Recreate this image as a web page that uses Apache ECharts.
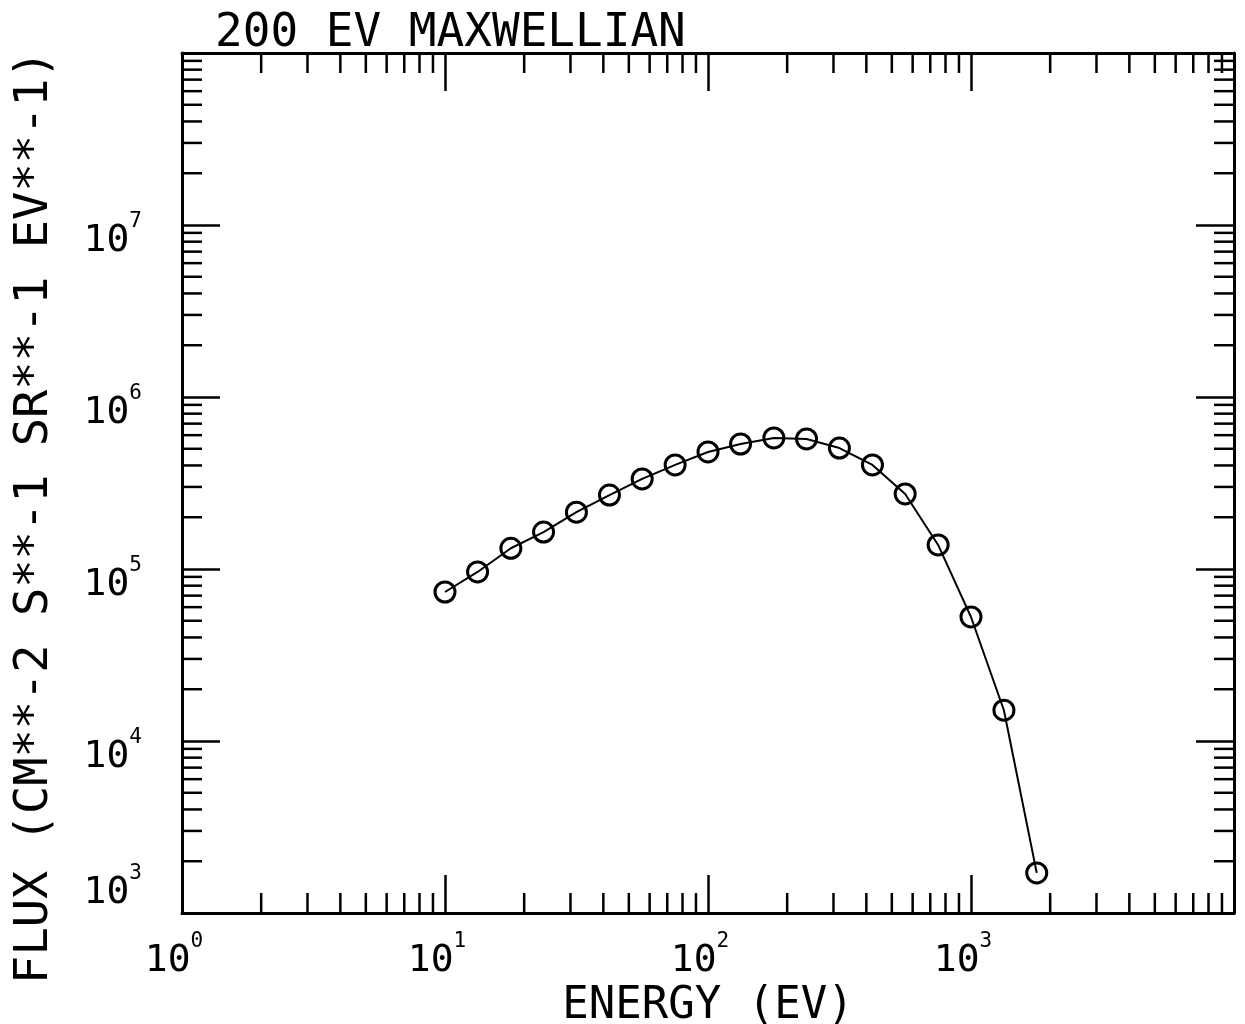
<!DOCTYPE html>
<html><head><meta charset="utf-8">
<script src="https://cdn.jsdelivr.net/npm/echarts@6/dist/echarts.min.js"></script>
<style>html,body{margin:0;background:#fff}#c{width:1245px;height:1024px}</style>
</head><body><div id="c"></div>
<script>
const titleText = '200 EV MAXWELLIAN';
const xName = 'ENERGY (EV)';
const yName = 'FLUX (CM**-2 S**-1 SR**-1 EV**-1)';
const energy = [10, 13.3, 17.8, 23.7, 31.6, 42.2, 56.2, 75, 100, 133, 178, 237, 316, 422, 562, 750, 1000, 1334, 1778];
const flux = [73500, 96100, 132000, 164000, 214000, 269000, 334000, 403000, 479000, 533000, 578000, 570000, 505000, 403000, 273000, 138000, 52600, 15100, 1710];
const xDecades = [0, 1, 2, 3];
const yDecades = [3, 4, 5, 6, 7];
const minorMults = [2, 3, 4, 5, 6, 7, 8, 9];
const xMin = 1, xMax = 10000, yMin = 1000, yMax = 1e8;

const FONT = 'DejaVu Sans Mono';
const xMinor = [];
xDecades.forEach(d => minorMults.forEach(m => xMinor.push([m * Math.pow(10, d), yMin])));
const yMinor = [];
yDecades.forEach(d => minorMults.forEach(m => yMinor.push([xMin, m * Math.pow(10, d)])));

function expOf(v) { return Math.round(Math.log10(v)); }
const rich = {
  b: { fontFamily: FONT, fontSize: 38, color: '#000', lineHeight: 60 },
  s: { fontFamily: FONT, fontSize: 21, color: '#000', verticalAlign: 'top', lineHeight: 21 },
  g: { fontSize: 1, lineHeight: 32 },
  h: { fontSize: 1, lineHeight: 40 }
};
const TICKLEN = 38, MINOR = 20, LW = 2.5;
function axisCommon(extra) {
  return Object.assign({
    type: 'log', logBase: 10,
    axisLine: { show: true, lineStyle: { color: '#000', width: 3 } },
    axisTick: { show: true, inside: true, length: TICKLEN, lineStyle: { color: '#000', width: LW } },
    splitLine: { show: false },
    minorTick: { show: false },
  }, extra);
}
const chart = echarts.init(document.getElementById('c'));
chart.setOption({
  backgroundColor: '#fff',
  animation: false,
  title: { text: titleText, left: 210, top: 6, textStyle: { fontFamily: FONT, fontSize: 46, fontWeight: 'normal', color: '#000' } },
  grid: { left: 182, right: 11, top: 53, bottom: 111, containLabel: false, outerBoundsMode: 'none' },
  xAxis: [
    axisCommon({ position: 'bottom', min: xMin, max: xMax,
      name: xName, nameLocation: 'middle', nameGap: 72,
      nameTextStyle: { fontFamily: FONT, fontSize: 44, color: '#000' },
      axisLabel: { margin: 18, showMaxLabel: false, padding: [0, 16, 0, 0],
        formatter: v => '{b|10}{s|' + expOf(v) + '}', rich: rich } }),
    axisCommon({ position: 'top', min: xMin, max: xMax, axisLabel: { show: false } })
  ],
  yAxis: [
    axisCommon({ position: 'left', min: yMin, max: yMax,
      name: yName, nameLocation: 'middle', nameGap: 124, nameRotate: 90,
      nameTextStyle: { fontFamily: FONT, fontSize: 47, color: '#000', padding: [0, 68, 0, 0] },
      axisLabel: { margin: 40, showMaxLabel: false,
        formatter: v => {
          const e = expOf(v);
          if (e === 3) return '{b|10}{s|3}\n{h| }';
          return '{g| }\n{b|10}{s|' + e + '}';
        }, rich: rich } }),
    axisCommon({ position: 'right', min: yMin, max: yMax, axisLabel: { show: false } })
  ],
  series: [
    {
      type: 'custom', silent: true, clip: false, xAxisIndex: 0, yAxisIndex: 0,
      data: xMinor,
      renderItem: (params, api) => {
        const v = api.value(0);
        const b = api.coord([v, yMin]);
        const t = api.coord([v, yMax]);
        return { type: 'group', children: [
          { type: 'line', shape: { x1: b[0], y1: b[1], x2: b[0], y2: b[1] - MINOR }, style: { stroke: '#000', lineWidth: LW } },
          { type: 'line', shape: { x1: t[0], y1: t[1], x2: t[0], y2: t[1] + MINOR }, style: { stroke: '#000', lineWidth: LW } }
        ] };
      }
    },
    {
      type: 'custom', silent: true, clip: false, xAxisIndex: 0, yAxisIndex: 0,
      data: yMinor,
      renderItem: (params, api) => {
        const v = api.value(1);
        const l = api.coord([xMin, v]);
        const r = api.coord([xMax, v]);
        return { type: 'group', children: [
          { type: 'line', shape: { x1: l[0], y1: l[1], x2: l[0] + MINOR, y2: l[1] }, style: { stroke: '#000', lineWidth: LW } },
          { type: 'line', shape: { x1: r[0], y1: r[1], x2: r[0] - MINOR, y2: r[1] }, style: { stroke: '#000', lineWidth: LW } }
        ] };
      }
    },
    {
      type: 'line', xAxisIndex: 0, yAxisIndex: 0,
      data: energy.map((e, i) => [e, flux[i]]),
      symbol: 'circle', symbolSize: 20,
      lineStyle: { color: '#000', width: 2 },
      itemStyle: { color: 'rgba(0,0,0,0)', borderColor: '#000', borderWidth: 3 }
    }
  ]
});
</script></body></html>
